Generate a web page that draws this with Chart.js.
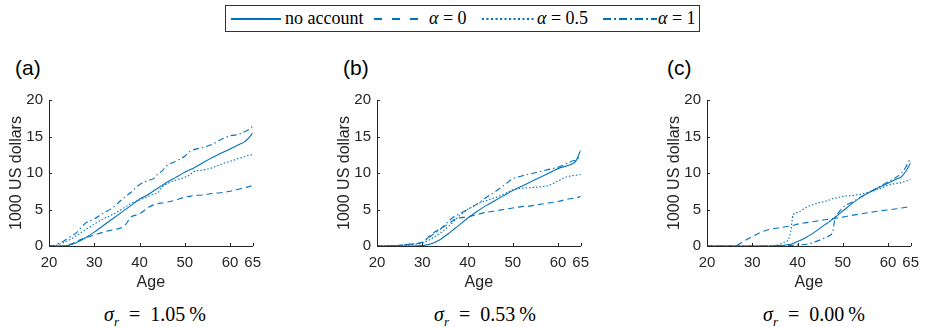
<!DOCTYPE html>
<html>
<head>
<meta charset="utf-8">
<script src="https://cdn.jsdelivr.net/npm/chart.js@4.4.1/dist/chart.umd.min.js"></script>
<style>
  body { margin: 0; background: #fff; }
  #wrap { position: relative; width: 926px; height: 327px; overflow: hidden; background: #fff; }
  canvas { position: absolute; top: 80px; }
  .tag { position: absolute; top: 56px; font: 21px "Liberation Sans", Arial, sans-serif; color: #000; }
  .sig { position: absolute; top: 303px; width: 160px; text-align: center; font: 20px "Liberation Serif", "DejaVu Serif", serif; color: #000; white-space: nowrap; }
  .sig sub { font-size: 13px; }
  #legend { position: absolute; left: 225px; top: 5px; width: 473px; height: 25px; border: 1px solid #333;
            font: 18px "Liberation Serif", "DejaVu Serif", serif; color: #000; }
  #legend span, #legend svg { position: absolute; top: 0; }
  #legend span { line-height: 25px; white-space: nowrap; }
</style>
</head>
<body>
<div id="wrap">
  <div id="legend">
    <svg style="left:5px" width="50" height="25"><line x1="0" y1="13" x2="50" y2="13" stroke="#0072BD" stroke-width="2.2"/></svg>
    <span style="left:59px">no account</span>
    <svg style="left:148px" width="52" height="25"><line x1="0" y1="13" x2="52" y2="13" stroke="#0072BD" stroke-width="2.2" stroke-dasharray="8 10"/></svg>
    <span style="left:203px"><i>α</i> = 0</span>
    <svg style="left:256px" width="54" height="25"><line x1="0" y1="13" x2="54" y2="13" stroke="#0072BD" stroke-width="2.2" stroke-dasharray="2 2.5"/></svg>
    <span style="left:311px"><i>α</i> = 0.5</span>
    <svg style="left:377px" width="54" height="25"><line x1="0" y1="13" x2="54" y2="13" stroke="#0072BD" stroke-width="2.2" stroke-dasharray="8 3 2 3"/></svg>
    <span style="left:432px"><i>α</i> = 1</span>
  </div>

  <div class="tag" style="left:15px">(a)</div>
  <div class="tag" style="left:343px">(b)</div>
  <div class="tag" style="left:667px">(c)</div>

  <canvas id="chartA" width="270" height="215" style="left:-1px"></canvas>
  <canvas id="chartB" width="270" height="215" style="left:327px"></canvas>
  <canvas id="chartC" width="270" height="215" style="left:657px"></canvas>

  <div class="sig" style="left:75px"><i>σ<sub>r</sub></i>&nbsp; = &nbsp;1.05&thinsp;%</div>
  <div class="sig" style="left:405px"><i>σ<sub>r</sub></i>&nbsp; = &nbsp;0.53&thinsp;%</div>
  <div class="sig" style="left:734px"><i>σ<sub>r</sub></i>&nbsp; = &nbsp;0.00&thinsp;%</div>
</div>

<script>
  const xTicks = [20, 30, 40, 50, 60, 65];
  const blue = '#0072BD';

  // (a) sigma_r = 1.05 %
  const ageA = [20, 21, 22, 23, 24, 25, 26, 28, 30, 32, 34, 36, 37, 38, 40, 42, 43, 44, 45, 46, 48, 50, 51, 52, 54, 56, 58, 60, 62, 63, 64, 65];
  const noAccA = [0, 0, 0, 0, 0.05, 0.2, 0.45, 1.1, 1.9, 2.8, 3.7, 4.6, 5.05, 5.5, 6.4, 7.1, 7.5, 7.9, 8.3, 8.7, 9.4, 10.1, 10.4, 10.7, 11.4, 12.1, 12.7, 13.3, 13.9, 14.2, 14.7, 15.5];
  const alpha0A = [0, 0, 0, 0, 0.05, 0.3, 0.6, 1.1, 1.5, 1.9, 2.2, 2.5, 3.0, 3.9, 4.4, 5.3, 5.6, 5.8, 5.9, 6.0, 6.3, 6.7, 6.8, 6.9, 7.0, 7.2, 7.3, 7.5, 7.8, 8.0, 8.1, 8.3];
  const alpha05A = [0, 0, 0.2, 0.4, 0.7, 1.0, 1.4, 2.2, 3.0, 3.7, 4.3, 5.0, 5.4, 5.8, 6.3, 6.8, 7.1, 7.3, 8.1, 8.5, 9.0, 9.4, 9.7, 10.2, 10.4, 10.7, 11.2, 11.6, 12.0, 12.2, 12.4, 12.5];
  const alpha1A = [0, 0.05, 0.3, 0.6, 1.0, 1.4, 1.8, 3.1, 3.7, 4.5, 5.2, 6.3, 6.8, 7.3, 8.4, 9.0, 9.2, 9.8, 10.3, 11.0, 11.6, 12.3, 12.9, 13.2, 13.5, 13.9, 14.6, 15.1, 15.3, 15.6, 15.9, 16.4];

  // (b) sigma_r = 0.53 %
  const ageB = [20, 24, 28, 30, 32, 34, 36, 37, 38, 40, 42, 44, 46, 48, 50, 52, 54, 56, 58, 60, 62, 63, 64, 65];
  const noAccB = [0, 0, 0, 0.05, 0.3, 0.9, 1.8, 2.3, 2.8, 3.8, 4.7, 5.5, 6.2, 6.9, 7.6, 8.2, 8.8, 9.4, 10.0, 10.6, 11.0, 11.2, 11.7, 13.1];
  const alpha0B = [0, 0.05, 0.3, 0.5, 1.6, 2.4, 3.1, 3.6, 3.8, 4.0, 4.3, 4.6, 4.8, 5.0, 5.2, 5.4, 5.5, 5.7, 5.9, 6.1, 6.4, 6.5, 6.6, 6.8];
  const alpha05B = [0, 0.05, 0.2, 0.4, 1.0, 1.8, 2.8, 3.4, 4.0, 5.0, 5.7, 6.2, 6.6, 7.1, 7.7, 7.9, 8.0, 8.1, 8.3, 8.9, 9.5, 9.6, 9.7, 9.8];
  const alpha1B = [0, 0.05, 0.3, 0.5, 1.4, 2.3, 3.5, 4.0, 4.3, 5.0, 5.7, 6.6, 7.4, 8.3, 9.2, 9.6, 9.9, 10.2, 10.5, 10.8, 11.3, 11.6, 11.8, 12.3];

  // (c) sigma_r = 0.00 %
  const ageC = [20, 26, 28, 30, 32, 34, 36, 37, 38, 38.5, 39, 40, 42, 44, 46, 47, 47.8, 48.3, 49, 50, 52, 54, 56, 58, 60, 62, 63, 64, 65];
  const noAccC = [0, 0, 0, 0, 0, 0, 0.05, 0.1, 0.2, 0.25, 0.35, 0.6, 1.2, 2.0, 2.9, 3.3, 3.7, 3.9, 4.3, 4.8, 5.8, 6.7, 7.4, 8.0, 8.6, 9.2, 9.5, 10.3, 11.4];
  const alpha0C = [0, 0, 0.6, 1.3, 1.9, 2.3, 2.5, 2.6, 2.7, 2.75, 2.8, 3.0, 3.2, 3.4, 3.6, 3.7, 3.75, 3.8, 3.85, 3.95, 4.2, 4.4, 4.6, 4.8, 4.95, 5.1, 5.2, 5.3, 5.4];
  const alpha05C = [0, 0, 0, 0, 0.02, 0.05, 0.2, 0.5, 0.9, 2.0, 4.2, 4.6, 5.3, 5.8, 6.1, 6.3, 6.5, 6.55, 6.65, 6.8, 6.9, 7.1, 7.4, 7.8, 8.3, 8.6, 8.7, 8.9, 9.1];
  const alpha1C = [0, 0, 0, 0, 0, 0, 0, 0.02, 0.05, 0.07, 0.1, 0.15, 0.25, 0.6, 1.1, 1.4, 2.0, 3.9, 4.5, 5.3, 6.0, 6.7, 7.4, 8.1, 8.8, 9.5, 10.0, 10.9, 12.1];

  const styles = [
    { label: 'no account', dash: [] },
    { label: 'alpha = 0', dash: [6, 4] },
    { label: 'alpha = 0.5', dash: [1.5, 2] },
    { label: 'alpha = 1', dash: [6, 3, 1.5, 3] }
  ];

  function pairs(xs, ys) {
    return xs.map((x, i) => ({ x: x, y: ys[i] }));
  }

  // MATLAB style ticks pointing into the plot
  const innerTicks = {
    id: 'innerTicks',
    afterDraw(chart) {
      const ctx = chart.ctx;
      const xs = chart.scales.x, ys = chart.scales.y;
      ctx.save();
      ctx.strokeStyle = '#262626';
      ctx.lineWidth = 1;
      ctx.beginPath();
      xTicks.forEach(v => {
        const px = Math.round(xs.getPixelForValue(v)) + 0.5;
        ctx.moveTo(px, ys.bottom);
        ctx.lineTo(px, ys.bottom - 3);
      });
      [0, 5, 10, 15, 20].forEach(v => {
        const py = Math.round(ys.getPixelForValue(v)) + 0.5;
        ctx.moveTo(xs.left, py);
        ctx.lineTo(xs.left + 3, py);
      });
      ctx.stroke();
      ctx.restore();
    }
  };

  function makeChart(id, ages, series, padRight) {
    new Chart(document.getElementById(id), {
      type: 'line',
      data: {
        datasets: series.map((vals, i) => ({
          label: styles[i].label,
          data: pairs(ages, vals),
          borderColor: blue,
          borderWidth: 1.1,
          borderDash: styles[i].dash,
          pointRadius: 0,
          cubicInterpolationMode: 'monotone',
          fill: false
        }))
      },
      options: {
        responsive: false,
        animation: false,
        layout: { padding: { top: 20, right: padRight, bottom: 0, left: 0 } },
        plugins: { legend: { display: false }, tooltip: { enabled: false } },
        scales: {
          x: {
            type: 'linear', min: 20, max: 65,
            afterBuildTicks: s => { s.ticks = xTicks.map(v => ({ value: v })); },
            afterFit: s => { s.height = 49; },
            grid: { display: false, drawTicks: false },
            border: { display: true, color: '#262626', width: 1 },
            ticks: { color: '#262626', padding: 8, maxRotation: 0, autoSkip: false,
                     font: { family: '"Liberation Sans", Arial, sans-serif', size: 15 } },
            title: { display: true, text: 'Age', color: '#262626', padding: { top: 0, bottom: 3 },
                     font: { family: '"Liberation Sans", Arial, sans-serif', size: 16 } }
          },
          y: {
            min: 0, max: 20,
            afterFit: s => { s.width = 50; },
            grid: { display: false, drawTicks: false },
            border: { display: true, color: '#262626', width: 1 },
            ticks: { stepSize: 5, color: '#262626', padding: 6,
                     font: { family: '"Liberation Sans", Arial, sans-serif', size: 15 } },
            title: { display: true, text: '1000 US dollars', color: '#262626', padding: { top: 8, bottom: 0 },
                     font: { family: '"Liberation Sans", Arial, sans-serif', size: 16 } }
          }
        }
      },
      plugins: [innerTicks]
    });
  }

  makeChart('chartA', ageA, [noAccA, alpha0A, alpha05A, alpha1A], 14);
  makeChart('chartB', ageB, [noAccB, alpha0B, alpha05B, alpha1B], 13);
  makeChart('chartC', ageC, [noAccC, alpha0C, alpha05C, alpha1C], 14);
</script>
</body>
</html>
